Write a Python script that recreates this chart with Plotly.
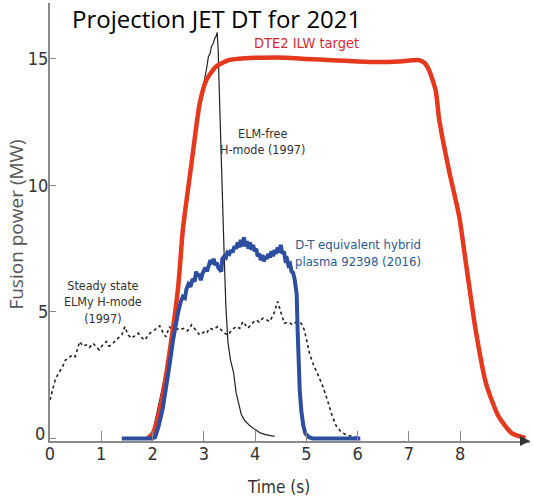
import plotly.graph_objects as go

# ---------------- data ----------------
red_x = [1.90, 2.01, 2.17, 2.33, 2.50, 2.59, 2.76, 2.92, 3.05, 3.24, 3.50, 3.80, 4.14, 4.60, 5.00, 5.50,
         6.00, 6.40, 6.80, 7.20, 7.30, 7.39, 7.52, 7.59, 7.78, 7.98, 8.11, 8.30, 8.50, 8.75, 9.01, 9.27]
red_y = [0.0, 0.22, 1.4, 3.38, 6.0, 8.24, 10.88, 13.25, 14.17, 14.7, 14.96, 15.03, 15.05, 15.05, 15.0, 14.95,
         14.9, 14.88, 14.9, 14.95, 14.85, 14.56, 13.76, 12.59, 10.6, 8.77, 6.94, 4.29, 2.19, 0.86, 0.2, 0.02]

blue_x = [1.40, 1.98, 2.05, 2.12, 2.20, 2.27, 2.33, 2.40, 2.46, 2.50, 2.55, 2.59, 2.63, 2.66, 2.70, 2.74,
          2.78, 2.82, 2.85, 2.88, 2.91, 2.94, 2.97, 3.00, 3.03, 3.06, 3.10, 3.13, 3.16, 3.19, 3.22, 3.25,
          3.28, 3.31, 3.34, 3.36, 3.40, 3.43, 3.46, 3.50, 3.53, 3.56, 3.60, 3.63, 3.66, 3.69, 3.72, 3.75,
          3.78, 3.81, 3.84, 3.87, 3.90, 3.93, 3.96, 3.99, 4.02, 4.05, 4.08, 4.11, 4.14, 4.17, 4.20, 4.23,
          4.26, 4.29, 4.32, 4.35, 4.38, 4.41, 4.44, 4.47, 4.50, 4.53, 4.56, 4.59, 4.62, 4.65, 4.68, 4.71,
          4.74, 4.77, 4.79, 4.81, 4.83, 4.85, 4.87, 4.90, 4.94, 4.98, 5.05, 5.12, 6.05]
blue_y = [0.0, 0.0, 0.05, 0.5, 1.2, 2.0, 2.9, 3.9, 4.6, 5.0, 5.4, 5.6, 5.55, 5.9, 6.1, 6.0,
          6.3, 6.2, 6.6, 6.4, 6.5, 6.25, 6.5, 6.6, 6.75, 6.6, 6.9, 7.05, 6.9, 7.1, 6.85, 6.95,
          6.75, 6.7, 6.6, 7.1, 7.2, 7.15, 7.35, 7.3, 7.45, 7.35, 7.6, 7.5, 7.75, 7.55, 7.85, 7.6,
          7.95, 7.6, 7.8, 7.5, 7.75, 7.45, 7.65, 7.4, 7.5, 7.2, 7.3, 7.05, 7.25, 7.0, 7.2, 7.1,
          7.3, 7.15, 7.4, 7.2, 7.45, 7.3, 7.55, 7.35, 7.65, 7.3, 7.4, 7.05, 7.1, 6.85, 6.9, 6.6,
          6.55, 6.3, 6.1, 5.7, 4.2, 2.8, 1.9, 1.1, 0.5, 0.2, 0.05, 0.0, 0.0]

elmfree_x = [1.90, 1.95, 2.02, 2.10, 2.17, 2.25, 2.33, 2.40, 2.47, 2.53, 2.58, 2.70, 2.85, 2.98, 3.02,
             3.06, 3.09, 3.12, 3.15, 3.18, 3.21, 3.24, 3.26, 3.28, 3.30, 3.33, 3.36, 3.40, 3.43, 3.47,
             3.52, 3.58, 3.63, 3.68, 3.73, 3.80, 3.90, 4.00, 4.10, 4.20, 4.30, 4.38]
elmfree_y = [0.0, 0.05, 0.4, 1.1, 1.8, 2.6, 3.4, 4.4, 5.6, 7.0, 8.4, 10.2, 12.4, 13.8, 14.2,
             14.7, 15.1, 15.2, 15.5, 15.6, 15.8, 15.9, 16.05, 15.3, 13.8, 11.5, 9.4, 7.0, 5.2, 3.8,
             3.1, 2.6, 1.8, 1.3, 0.95, 0.7, 0.5, 0.35, 0.22, 0.15, 0.1, 0.08]

elmy_x = [0.00, 0.10, 0.17, 0.23, 0.30, 0.36, 0.43, 0.49, 0.58, 0.64, 0.71, 0.77, 0.84, 0.90, 0.96, 1.03,
          1.10, 1.15, 1.20, 1.27, 1.33, 1.40, 1.46, 1.52, 1.59, 1.65, 1.72, 1.78, 1.85, 1.92, 1.98, 2.05,
          2.14, 2.20, 2.26, 2.33, 2.40, 2.46, 2.53, 2.60, 2.68, 2.76, 2.84, 2.92, 3.00, 3.05, 3.11, 3.19,
          3.27, 3.35, 3.41, 3.47, 3.55, 3.63, 3.70, 3.76, 3.82, 3.86, 3.94, 4.02, 4.08, 4.15, 4.22, 4.28,
          4.36, 4.44, 4.50, 4.57, 4.65, 4.73, 4.80, 4.90, 4.96, 5.06, 5.12, 5.19, 5.25, 5.32, 5.41, 5.50,
          5.58, 5.68, 5.80, 5.95, 6.05]
elmy_y = [1.52, 2.31, 2.6, 2.77, 3.1, 3.17, 3.3, 3.23, 3.83, 3.65, 3.7, 3.6, 3.76, 3.65, 3.5, 3.7,
          3.83, 3.65, 3.7, 3.85, 3.96, 4.1, 4.42, 4.1, 3.96, 4.05, 4.16, 4.0, 3.89, 4.1, 4.22, 4.3,
          4.45, 4.2, 4.02, 4.42, 4.2, 4.35, 4.29, 4.35, 4.25, 4.49, 4.3, 4.09, 4.2, 4.15, 4.36, 4.3,
          4.42, 4.25, 4.15, 4.09, 4.3, 4.42, 4.35, 4.62, 4.45, 4.36, 4.55, 4.68, 4.6, 4.75, 4.7, 4.62,
          4.9, 5.41, 5.0, 4.55, 4.6, 4.49, 4.6, 4.55, 4.29, 3.37, 3.0, 2.71, 2.4, 2.05, 1.52, 0.9,
          0.5, 0.25, 0.12, 0.06, 0.05]

x_ticks = [0, 1, 2, 3, 4, 5, 6, 7, 8]
y_ticks = [0, 5, 10, 15]
y_ticklabels = ["", "5", "10", "15"]   # the "0" is set slightly raised, as in the original

NARROW = "DejaVu Sans Condensed, Liberation Sans Narrow, sans-serif"

fig = go.Figure()
fig.add_trace(go.Scatter(x=elmy_x, y=elmy_y, mode="lines",
                         line=dict(color="#222222", width=1.6, dash="dot")))
fig.add_trace(go.Scatter(x=elmfree_x, y=elmfree_y, mode="lines",
                         line=dict(color="#222222", width=1.2)))
fig.add_trace(go.Scatter(x=red_x, y=red_y, mode="lines",
                         line=dict(color="#e5381d", width=4.5, shape="spline", smoothing=0.6)))
fig.add_trace(go.Scatter(x=blue_x, y=blue_y, mode="lines",
                         line=dict(color="#2d4ea0", width=4)))

ann = []
ann.append(dict(text="Projection JET DT for 2021", x=3.24, y=16.6, xref="x", yref="y",
                showarrow=False, font=dict(family="Open Sans, sans-serif", size=24, color="#000000")))
ann.append(dict(text="DTE2 ILW target", x=5.01, y=15.63, xref="x", yref="y", showarrow=False,
                font=dict(family=NARROW, size=14.5, color="#d42a2f")))
ann.append(dict(text="ELM-free<br>H-mode (1997)", x=4.15, y=11.72, xref="x", yref="y", showarrow=False,
                font=dict(family=NARROW, size=12.5, color="#333333")))
ann.append(dict(text="D-T equivalent hybrid<br>plasma 92398 (2016)", x=6.0, y=7.33, xref="x", yref="y",
                showarrow=False, font=dict(family=NARROW, size=13, color="#2b5a92")))
ann.append(dict(text="Steady state<br>ELMy H-mode<br>(1997)", x=1.03, y=5.4, xref="x", yref="y",
                showarrow=False, font=dict(family=NARROW, size=12.5, color="#333333")))
ann.append(dict(text="Fusion power (MW)", x=-0.07, y=0.495, xref="paper", yref="paper", textangle=-90,
                xanchor="center", yanchor="middle",
                showarrow=False, font=dict(family="Open Sans, sans-serif", size=19, color="#555555")))
ann.append(dict(text="Time (s)", x=0.475, y=-0.105, xref="paper", yref="paper", showarrow=False,
                xanchor="center", yanchor="middle",
                font=dict(family=NARROW, size=17, color="#333333")))
ann.append(dict(text=str(y_ticks[0]), x=0, y=y_ticks[0] + 0.2, xref="x", yref="y", showarrow=False,
                xanchor="right", yanchor="middle", xshift=-3,
                font=dict(family=NARROW, size=18, color="#333333")))
ann.append(dict(text="", x=9.36, y=-0.1, xref="x", yref="y", ax=-9, ay=0, showarrow=True,
                arrowhead=2, arrowsize=1, arrowwidth=2, arrowcolor="#333333"))

fig.update_layout(
    width=533, height=501,
    margin=dict(l=50, r=3, t=3, b=60),
    paper_bgcolor="white", plot_bgcolor="white",
    showlegend=False,
    annotations=ann,
    xaxis=dict(range=[0, 9.36], tickvals=x_ticks, ticktext=[str(v) for v in x_ticks],
               showgrid=False, zeroline=False, showline=True, linecolor="#8a8a8a", linewidth=2,
               ticks="inside", ticklen=10, tickcolor="#8a8a8a", tickwidth=1,
               ticklabelstandoff=-5,
               tickfont=dict(family=NARROW, size=18, color="#333333")),
    yaxis=dict(range=[-0.1, 17.21], tickvals=y_ticks, ticktext=y_ticklabels,
               showgrid=False, zeroline=False, showline=True, linecolor="#8a8a8a", linewidth=2,
               ticks="inside", ticklen=6, tickcolor="#8a8a8a", tickwidth=1,
               ticklabelstandoff=-4,
               tickfont=dict(family=NARROW, size=18, color="#333333")),
)

fig.write_html("out.html")
